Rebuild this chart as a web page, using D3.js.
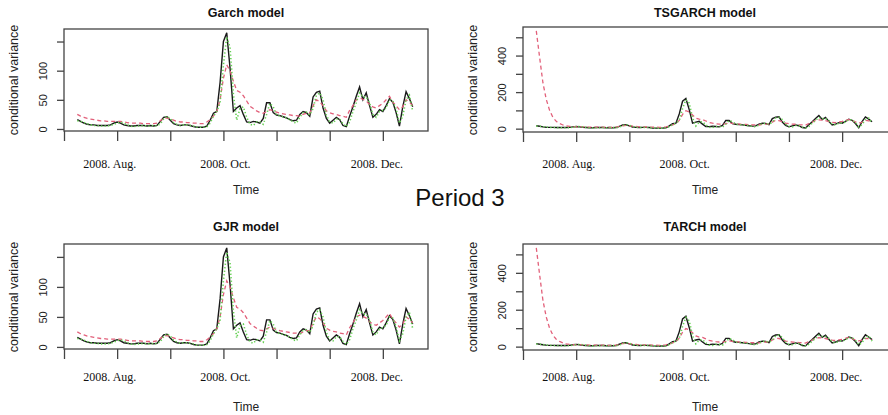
<!DOCTYPE html>
<html><head><meta charset="utf-8">
<script src="https://cdn.jsdelivr.net/npm/d3@7"></script>
<style>body{margin:0;background:#fff}svg{display:block}</style>
</head><body><svg id="c" width="888" height="415"></svg>
<script>
// observed conditional variance proxy (black solid) - shared by all models
const observed = [16,13,10,8,7,7,6,6,6,6,7,10,12,10,7,6,5,5,6,6,6,5,6,5,6,13,20,21,15,9,7,6,7,7,6,4,3,3,3,5,15,27,30,80,150,165,104,30,36,40,25,12,11,13,12,10,18,45,45,28,24,23,21,19,16,14,15,25,30,28,22,55,63,65,36,18,10,15,20,16,6,4,22,38,56,72,50,62,40,20,25,33,30,40,52,46,28,5,38,64,52,38];
// fitted variance (red dashed)
const garchFit = [25,22,20,18,17,16,15,14,14,13,13,13,13,13,12,11,10,10,10,10,9,9,9,9,10,14,18,19,17,15,13,12,12,11,11,10,10,9,9,12,16,22,30,50,87,110,100,82,66,63,57,48,39,35,31,28,27,30,33,31,29,27,26,25,24,23,23,22,25,27,27,40,50,47,40,31,28,26,25,23,22,20,32,40,50,53,51,48,42,38,36,40,44,50,56,46,40,33,38,50,46,40];
const gjrFit = [25,22,20,18,17,16,15,14,14,13,13,13,13,13,12,11,10,10,10,10,9,9,9,9,10,14,18,19,17,15,13,12,12,11,11,10,10,9,9,12,16,22,30,50,87,110,100,82,66,63,57,48,39,35,31,28,27,30,33,31,29,27,26,25,24,23,23,22,25,27,27,40,50,47,40,31,28,26,25,23,22,20,32,40,50,53,51,48,42,38,36,40,44,50,56,46,40,33,38,50,46,40];
const tsgarchFit = [535,390,250,160,100,62,40,28,20,15,12,11,10,11,10,9,8,8,8,8,8,7,7,7,8,12,16,18,16,14,12,10,10,9,9,8,8,7,7,10,14,20,28,45,78,98,92,75,58,52,50,42,34,30,27,25,24,28,31,29,27,25,24,23,22,21,21,20,23,25,25,36,46,44,38,30,27,25,24,22,21,19,28,36,45,48,47,44,39,35,33,36,40,45,50,43,37,31,35,45,43,38];
const tarchFit = [535,390,250,160,100,62,40,28,20,15,12,11,10,11,10,9,8,8,8,8,8,7,7,7,8,12,16,18,16,14,12,10,10,9,9,8,8,7,7,10,14,20,28,45,78,98,92,75,58,52,50,42,34,30,27,25,24,28,31,29,27,25,24,23,22,21,21,20,23,25,25,36,46,44,38,30,27,25,24,22,21,19,28,36,45,48,47,44,39,35,33,36,40,45,50,43,37,31,35,45,43,38];
// alternative estimate (green dotted)
const altFit = [14,13,11,9,7,6,6,5,5,5,6,8,10,12,10,7,5,4,5,5,6,5,5,6,5,9,17,22,18,11,8,6,7,7,6,5,3,3,3,4,10,22,30,45,110,158,140,60,15,35,38,20,8,6,12,12,8,25,44,38,24,22,21,19,16,12,10,20,28,29,24,35,58,62,50,24,12,10,17,17,9,4,12,30,45,62,55,55,45,25,20,30,32,36,50,48,34,10,22,50,58,30];

const panelTitles = ["Garch model", "TSGARCH model", "GJR model", "TARCH model"];
const monthLabels = ["2008. Aug.", "2008. Oct.", "2008. Dec."];
const monthLabelAt = [9.8, 44.6, 90.2];
const xTickAt = [-4, 12, 28, 44, 60, 76, 92];
const yTicksSmall = [0, 50, 100, 150];
const yLabelsSmall = [0, 50, 100];
const yTicksLarge = [0, 100, 200, 300, 400, 500];
const yLabelsLarge = [0, 200, 400];

const sans = "'Liberation Sans', Arial, Helvetica, sans-serif";
const serif = "'Liberation Serif', 'Times New Roman', serif";
const svg = d3.select("#c");
svg.append("rect").attr("width", 888).attr("height", 415).attr("fill", "#fff");

const panels = [
  {title: panelTitles[0], fit: garchFit, x0: 64, x1: 428, xdom: [-4, 105.6], top: 29, bottom: 131, yt: yTicksSmall, yl: yLabelsSmall, titleY: 12.5, labY: 163.5, timeY: 190, ylabY: 80, cx: 246},
  {title: panelTitles[1], fit: tsgarchFit, x0: 523, x1: 891, xdom: [-4, 106.7], top: 27, bottom: 132, yt: yTicksLarge, yl: yLabelsLarge, titleY: 12.5, labY: 163.5, timeY: 190, ylabY: 80, cx: 705},
  {title: panelTitles[2], fit: gjrFit, x0: 64, x1: 428, xdom: [-4, 105.6], top: 244, bottom: 349, yt: yTicksSmall, yl: yLabelsSmall, titleY: 227, labY: 377, timeY: 407, ylabY: 297, cx: 246},
  {title: panelTitles[3], fit: tarchFit, x0: 523, x1: 891, xdom: [-4, 106.7], top: 244, bottom: 350, yt: yTicksLarge, yl: yLabelsLarge, titleY: 227, labY: 377, timeY: 407, ylabY: 297, cx: 705}
];

panels.forEach(p => {
  const g = svg.append("g");
  const x = d3.scaleLinear().domain(p.xdom).range([p.x0, p.x1]);
  const all = observed.concat(p.fit, altFit);
  const ext = d3.extent(all);
  const pad = (ext[1] - ext[0]) * 0.04;
  const y = d3.scaleLinear().domain([ext[0] - pad, ext[1] + pad]).range([p.bottom, p.top]);

  const clipId = "clip" + p.x0 + "_" + p.top;
  svg.append("clipPath").attr("id", clipId).append("rect")
    .attr("x", p.x0).attr("y", p.top).attr("width", p.x1 - p.x0).attr("height", p.bottom - p.top);

  const line = d3.line().x((d, i) => x(i)).y(d => y(d)).curve(d3.curveLinear);
  const lg = g.append("g").attr("clip-path", `url(#${clipId})`);
  lg.append("path").datum(observed).attr("d", line).attr("fill", "none")
    .attr("stroke", "#1a1a1a").attr("stroke-width", 1.4);
  lg.append("path").datum(p.fit).attr("d", line).attr("fill", "none")
    .attr("stroke", "#E2607A").attr("stroke-width", 1.3).attr("stroke-dasharray", "4,3");
  lg.append("path").datum(altFit).attr("d", line).attr("fill", "none")
    .attr("stroke", "#66D054").attr("stroke-width", 1.6).attr("stroke-dasharray", "1.3,2.2");

  // box
  g.append("rect").attr("x", p.x0).attr("y", p.top).attr("width", p.x1 - p.x0).attr("height", p.bottom - p.top)
    .attr("fill", "none").attr("stroke", "#444").attr("stroke-width", 1.3);

  // x axis ticks
  const xa = g.append("g").attr("transform", `translate(0,${p.bottom})`)
    .call(d3.axisBottom(x).tickValues(xTickAt).tickSize(10).tickFormat(""));
  xa.select(".domain").remove();
  xa.selectAll("line").attr("stroke", "#444").attr("stroke-width", 1.3);

  // month labels
  g.selectAll(".ml").data(monthLabels).join("text")
    .attr("x", (d, i) => x(monthLabelAt[i])).attr("y", p.labY)
    .attr("text-anchor", "middle").attr("dominant-baseline", "central")
    .attr("font-family", serif).attr("font-size", 12).attr("fill", "#111")
    .text(d => d);

  // y axis
  const ya = g.append("g").attr("transform", `translate(${p.x0},0)`)
    .call(d3.axisLeft(y).tickValues(p.yt).tickSize(7)
      .tickFormat(d => p.yl.includes(d) ? String(d) : ""));
  ya.select(".domain").remove();
  ya.selectAll("line").attr("stroke", "#444").attr("stroke-width", 1.3);
  ya.selectAll("text")
    .attr("x", null).attr("dy", null)
    .attr("transform", d => `translate(-21,0) rotate(-90)`)
    .attr("text-anchor", "middle").attr("dominant-baseline", "central")
    .attr("font-family", sans).attr("font-size", 11).attr("fill", "#222");

  // titles
  g.append("text").attr("x", p.cx).attr("y", p.titleY)
    .attr("text-anchor", "middle").attr("dominant-baseline", "central")
    .attr("font-family", sans).attr("font-weight", "bold").attr("font-size", 12.5).attr("fill", "#111")
    .text(p.title);
  g.append("text").attr("x", p.cx).attr("y", p.timeY)
    .attr("text-anchor", "middle").attr("dominant-baseline", "central")
    .attr("font-family", sans).attr("font-size", 12).attr("fill", "#222")
    .text("Time");
  g.append("text").attr("transform", `translate(${p.x0 - 50.5},${p.ylabY}) rotate(-90)`)
    .attr("text-anchor", "middle").attr("dominant-baseline", "central")
    .attr("font-family", sans).attr("font-size", 12.5).attr("fill", "#222")
    .text("conditional variance");
});

svg.append("text").attr("x", 460).attr("y", 206)
  .attr("text-anchor", "middle")
  .attr("font-family", sans).attr("font-size", 24).attr("fill", "#111")
  .text("Period 3");
</script></body></html>
